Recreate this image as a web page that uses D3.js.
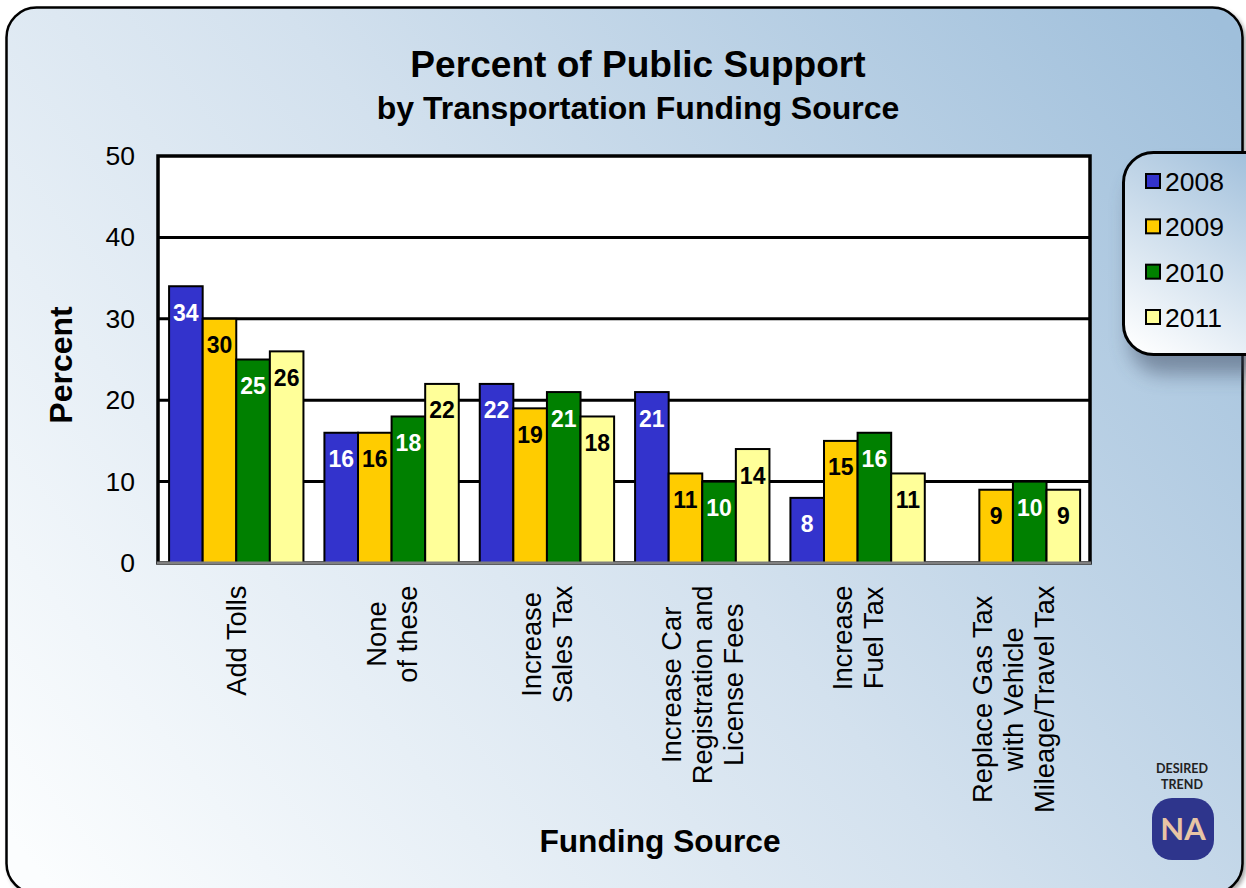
<!DOCTYPE html>
<html><head><meta charset="utf-8">
<script src="https://cdn.jsdelivr.net/npm/d3@7"></script>
<style>html,body{margin:0;padding:0;background:#fff;overflow:hidden}svg{display:block}text{font-family:"Liberation Sans",Arial,sans-serif}</style>
</head><body><svg id="c" width="1246" height="888"></svg>
<script>
const categories=[["Add Tolls"],["None","of these"],["Increase","Sales Tax"],["Increase Car","Registration and","License Fees"],["Increase","Fuel Tax"],["Replace Gas Tax","with Vehicle","Mileage/Travel Tax"]];
const years=["2008","2009","2010","2011"];
const v2008=[34,16,22,21,8,null];
const v2009=[30,16,19,11,15,9];
const v2010=[25,18,21,10,16,10];
const v2011=[26,22,18,14,11,9];
const seriesValues=[v2008,v2009,v2010,v2011];
const colors=["#3333cc","#ffcc00","#008000","#ffff99"];
const labelColors=["#fff","#000","#fff","#000"];
const yTicks=[0,10,20,30,40,50];

const svg=d3.select("#c");
const defs=svg.append("defs");
const bg=defs.append("linearGradient").attr("id","bg").attr("gradientUnits","userSpaceOnUse")
 .attr("x1",60).attr("y1",900).attr("x2",1200).attr("y2",0);
bg.append("stop").attr("offset",0).attr("stop-color","#fbfdfe");
bg.append("stop").attr("offset",.5).attr("stop-color","#d3e1ee");
bg.append("stop").attr("offset",1).attr("stop-color","#9fbfdb");
const lg=defs.append("linearGradient").attr("id","lg").attr("gradientUnits","userSpaceOnUse")
 .attr("x1",1130).attr("y1",350).attr("x2",1246).attr("y2",155);
lg.append("stop").attr("offset",0).attr("stop-color","#ffffff");
lg.append("stop").attr("offset",1).attr("stop-color","#a3c1dc");
const blur=defs.append("filter").attr("id","blur").attr("x","-30%").attr("y","-30%").attr("width","160%").attr("height","160%");
blur.append("feGaussianBlur").attr("stdDeviation",10);
const blur2=defs.append("filter").attr("id","blur2").attr("x","-5%").attr("y","-5%").attr("width","110%").attr("height","110%");
blur2.append("feGaussianBlur").attr("stdDeviation",2);

// panel
svg.append("rect").attr("x",8).attr("y",10).attr("width",1238).attr("height",886).attr("rx",30)
 .attr("fill","#555").attr("opacity",.55).attr("filter","url(#blur2)");
svg.append("rect").attr("x",6.5).attr("y",7.5).attr("width",1236).attr("height",886).attr("rx",30)
 .attr("fill","url(#bg)").attr("stroke","#000").attr("stroke-width",2.5);

// scales
const x0=d3.scaleBand().domain(d3.range(categories.length)).range([158.6,1090.6]).paddingInner(.135).paddingOuter(.0675);
const x1=d3.scaleBand().domain(d3.range(years.length)).range([0,x0.bandwidth()]);
const y=d3.scaleLinear().domain([0,50]).range([563,156]);

// plot
svg.append("rect").attr("x",158).attr("y",156).attr("width",932).attr("height",407).attr("fill","#fff");
svg.append("g").selectAll("line").data(yTicks.filter(t=>t>0&&t<50)).join("line")
 .attr("x1",158).attr("x2",1090).attr("y1",d=>y(d)).attr("y2",d=>y(d)).attr("stroke","#000").attr("stroke-width",3);
svg.append("rect").attr("x",158).attr("y",156).attr("width",932).attr("height",407).attr("fill","none").attr("stroke","#000").attr("stroke-width",3.5);

// bars
const series=svg.append("g").selectAll("g").data(seriesValues).join("g");
series.each(function(vals,s){
  const g=d3.select(this);
  const pts=vals.map((v,i)=>({v,i})).filter(d=>d.v!=null);
  g.selectAll("rect").data(pts).join("rect")
   .attr("x",d=>x0(d.i)+x1(s)).attr("width",x1.bandwidth())
   .attr("y",d=>y(d.v)).attr("height",d=>y(0)-y(d.v))
   .attr("fill",colors[s]).attr("stroke","#000").attr("stroke-width",2);
});
series.each(function(vals,s){
  const g=d3.select(this);
  const pts=vals.map((v,i)=>({v,i})).filter(d=>d.v!=null);
  g.selectAll("text").data(pts).join("text")
   .attr("x",d=>x0(d.i)+x1(s)+x1.bandwidth()/2).attr("y",d=>y(d.v)+34.5)
   .attr("text-anchor","middle").attr("font-size",23).attr("font-weight","bold")
   .attr("fill",labelColors[s]).text(d=>d.v);
});

// axis baseline
svg.append("line").attr("x1",157).attr("x2",1091).attr("y1",563).attr("y2",563).attr("stroke","#808080").attr("stroke-width",3);

// y axis
const yAxis=svg.append("g").attr("transform","translate(158,0)").call(d3.axisLeft(y).tickValues(yTicks).tickSize(0).tickPadding(23));
yAxis.select(".domain").remove();
yAxis.selectAll("text").attr("font-size",26.5).attr("fill","#000").attr("font-family","Liberation Sans");

// x labels
const lineGap=31;
categories.forEach((lines,i)=>{
  const cx=x0(i)+x0.bandwidth()/2;
  const g=svg.append("g");
  const t=g.selectAll("text").data(lines).join("text").attr("font-size",27.3).attr("fill","#000").attr("text-anchor","middle").text(d=>d);
  let maxLen=0; t.each(function(){maxLen=Math.max(maxLen,this.getComputedTextLength());});
  const cy=585.5+maxLen/2;
  t.attr("transform",(d,j)=>`translate(${cx+(j-(lines.length-1)/2)*lineGap+10},${cy}) rotate(-90)`);
});

// titles
svg.append("text").attr("x",638).attr("y",77).attr("text-anchor","middle").attr("font-size",37.1).attr("font-weight","bold").text("Percent of Public Support");
svg.append("text").attr("x",638).attr("y",119).attr("text-anchor","middle").attr("font-size",32).attr("font-weight","bold").text("by Transportation Funding Source");
svg.append("text").attr("transform","translate(72,365) rotate(-90)").attr("text-anchor","middle").attr("font-size",32).attr("font-weight","bold").text("Percent");
svg.append("text").attr("x",660).attr("y",852).attr("text-anchor","middle").attr("font-size",31.7).attr("font-weight","bold").text("Funding Source");

// legend
svg.append("rect").attr("x",1130).attr("y",170).attr("width",160).attr("height",204).attr("rx",32)
 .attr("fill","#3c4a60").attr("opacity",.5).attr("filter","url(#blur)");
svg.append("rect").attr("x",1123.5).attr("y",152.5).attr("width",160).attr("height",202).attr("rx",30)
 .attr("fill","url(#lg)").attr("stroke","#000").attr("stroke-width",3);
const legY=d3.scalePoint().domain(years).range([181,317]);
const leg=svg.append("g").selectAll("g").data(years).join("g");
leg.append("rect").attr("x",1146).attr("y",d=>legY(d)-7).attr("width",14).attr("height",14)
 .attr("fill",(d,i)=>colors[i]).attr("stroke","#000").attr("stroke-width",2);
leg.append("text").attr("x",1165).attr("y",d=>legY(d)+10).attr("font-size",26.5).attr("fill","#000").text(d=>d);

// badge
svg.append("text").attr("x",1182).attr("y",773).attr("text-anchor","middle").attr("font-size",12.5).attr("font-weight","bold").attr("fill","#222").style("font-family","Lato").text("DESIRED");
svg.append("text").attr("x",1182).attr("y",789).attr("text-anchor","middle").attr("font-size",12.5).attr("font-weight","bold").attr("fill","#222").style("font-family","Lato").text("TREND");
svg.append("rect").attr("x",1152).attr("y",798).attr("width",62).attr("height",62).attr("rx",20).attr("fill","#2e358c");
svg.append("text").attr("x",1183).attr("y",840).attr("text-anchor","middle").attr("font-size",31).attr("font-weight","bold").attr("fill","#e8c4a4").style("font-family","Lato").text("NA");
</script></body></html>
